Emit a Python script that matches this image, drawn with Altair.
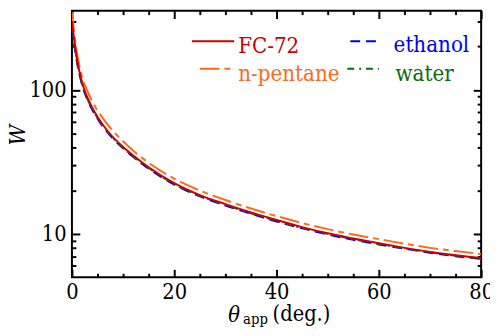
import altair as alt
import pandas as pd

# ---------------- data ----------------
THETA = [0, 0.5, 1, 2, 3, 4, 5, 6, 8, 10, 12, 15, 20, 25, 30, 35, 40, 45, 50, 55, 60, 65, 70, 75, 80]
W_FC72 = [300, 215, 163, 112, 89, 75, 65, 57.5, 47, 40.2, 35, 29, 22.5, 18.6, 16.1, 14.1, 12.5, 11.15, 10.1, 9.3, 8.6, 8.0, 7.5, 7.1, 6.8]
W_PENTANE = [345, 240, 180, 123, 99, 83, 72, 64, 52, 44, 37.8, 31.2, 24.2, 20.0, 17.2, 15.0, 13.3, 11.9, 10.8, 9.9, 9.2, 8.55, 8.0, 7.6, 7.25]
W_ETHANOL = [270, 200, 155, 108, 86, 72.5, 63, 56, 46, 39.3, 34.2, 28.4, 22.0, 18.2, 15.75, 13.8, 12.2, 10.95, 9.9, 9.1, 8.45, 7.9, 7.4, 7.0, 6.7]
W_WATER = [285, 207, 158, 110, 87.5, 73.5, 64, 56.8, 46.5, 39.7, 34.5, 28.7, 22.2, 18.4, 15.9, 13.9, 12.3, 11.0, 10.0, 9.2, 8.5, 7.95, 7.45, 7.05, 6.75]

SERIES = ["FC-72", "n-pentane", "ethanol", "water"]
VALUES = [W_FC72, W_PENTANE, W_ETHANOL, W_WATER]

X_MAJOR = [0, 20, 40, 60, 80]
X_MINOR = [5, 10, 15, 25, 30, 35, 45, 50, 55, 65, 70, 75]
Y_MAJOR = [10, 100]
Y_MINOR = [6, 7, 8, 9, 20, 30, 40, 50, 60, 70, 80, 90, 200, 300]

# ---------------- styles / layout ----------------
COLORS = {"FC-72": "#cc0000", "n-pentane": "#ff6a1a", "ethanol": "#0000f0", "water": "#0b6b0b"}
DASHES = {"FC-72": None, "n-pentane": [20, 5, 6, 5], "ethanol": [10, 6], "water": [7, 5, 2, 5]}
# legend: (line x1, line x2, line y, text x, text baseline y) in plot pixels
LEGEND_POS = {
    "FC-72": (122, 165, 31, 169, 43),
    "n-pentane": (130, 161, 59, 169, 71.5),
    "ethanol": (283, 314, 31, 327, 42.5),
    "water": (280, 312, 59, 329, 71),
}
W_PX, H_PX = 416, 271
FONT = "DejaVu Serif Condensed"

rows = []
for name, vals in zip(SERIES, VALUES):
    for t, w in zip(THETA, vals):
        rows.append({"theta": t, "W": w, "series": name})
df = pd.DataFrame(rows)

xs = alt.Scale(domain=[0, 80], nice=False, zero=False)
ys = alt.Scale(type="log", domain=[5, 355], nice=False)

x_label_axis = alt.Axis(values=X_MAJOR, orient="bottom", ticks=False, domain=False, grid=False,
                        labelFont=FONT, labelFontSize=22, labelColor="black", labelPadding=5,
                        labelFlush=False, labelOverlap=False, title=None)
y_label_axis = alt.Axis(values=Y_MAJOR, orient="left", ticks=False, domain=False, grid=False,
                        labelFont=FONT, labelFontSize=22, labelColor="black", labelPadding=6,
                        labelFlush=False, labelOverlap=False, title="W", titleFont=FONT,
                        titleFontSize=23, titleFontStyle="italic", titleFontWeight="normal",
                        titleColor="black", titleX=-43, titleY=126, titleAngle=270,
                        titleAlign="center", titleBaseline="bottom")


def tick_axis(orient, offset, values, size):
    return alt.Axis(orient=orient, offset=offset, values=values, tickSize=size, tickWidth=2,
                    tickColor="black", labels=False, domain=False, grid=False, title=None)


def tick_layer(xaxis, yaxis):
    return alt.Chart(df).mark_point(opacity=0).encode(
        x=alt.X("theta:Q", scale=xs, axis=xaxis),
        y=alt.Y("W:Q", scale=ys, axis=yaxis),
    )


layers = [
    tick_layer(tick_axis("top", -H_PX, X_MAJOR, 8), tick_axis("right", -W_PX, Y_MAJOR, 8)),
    tick_layer(tick_axis("top", -H_PX, X_MINOR, 4), tick_axis("right", -W_PX, Y_MINOR, 4)),
    tick_layer(tick_axis("bottom", -H_PX, X_MAJOR, 8), tick_axis("left", -W_PX, Y_MAJOR, 8)),
    tick_layer(tick_axis("bottom", -H_PX, X_MINOR, 4), tick_axis("left", -W_PX, Y_MINOR, 4)),
]


def line_layer(name, xaxis=None, yaxis=None):
    props = dict(color=COLORS[name], strokeWidth=2, clip=True, interpolate="monotone")
    if DASHES[name]:
        props["strokeDash"] = DASHES[name]
    return alt.Chart(df).transform_filter(alt.datum.series == name).mark_line(**props).encode(
        x=alt.X("theta:Q", scale=xs, axis=xaxis),
        y=alt.Y("W:Q", scale=ys, axis=yaxis),
    )


layers.append(line_layer("ethanol", x_label_axis, y_label_axis))
layers.append(line_layer("water"))
layers.append(line_layer("n-pentane"))
layers.append(line_layer("FC-72"))

one = alt.Data(values=[{"k": 1}])

# legend
for name in SERIES:
    x1, x2, ly, tx, ty = LEGEND_POS[name]
    rprops = dict(color=COLORS[name], strokeWidth=2)
    if DASHES[name]:
        rprops["strokeDash"] = DASHES[name]
    layers.append(alt.Chart(one).mark_rule(**rprops).encode(
        x=alt.value(x1), x2=alt.value(x2), y=alt.value(ly)))
    layers.append(alt.Chart(one).mark_text(text=name, color=COLORS[name], font=FONT, fontSize=22.5,
                                           align="left", baseline="alphabetic").encode(
        x=alt.value(tx), y=alt.value(ty)))

# x-axis title: θ_app (deg.)
layers.append(alt.Chart(one).mark_text(text="θ", font=FONT, fontSize=22, fontStyle="italic",
                                       align="left", baseline="alphabetic", color="black").encode(
    x=alt.value(159), y=alt.value(316)))
layers.append(alt.Chart(one).mark_text(text="app", font=FONT, fontSize=15,
                                       align="left", baseline="alphabetic", color="black").encode(
    x=alt.value(174), y=alt.value(318.5)))
layers.append(alt.Chart(one).mark_text(text="(deg.)", font=FONT, fontSize=22,
                                       align="left", baseline="alphabetic", color="black").encode(
    x=alt.value(204), y=alt.value(315)))

chart = alt.layer(*layers).resolve_axis(x="independent", y="independent").properties(
    width=W_PX, height=H_PX,
    padding={"left": 65, "top": 0, "right": 9, "bottom": 57},
    autosize=alt.AutoSizeParams(type="none"),
    background="white",
).configure_view(stroke="black", strokeWidth=2)

chart.save("out.html", embed_options={"renderer": "svg", "actions": False})
